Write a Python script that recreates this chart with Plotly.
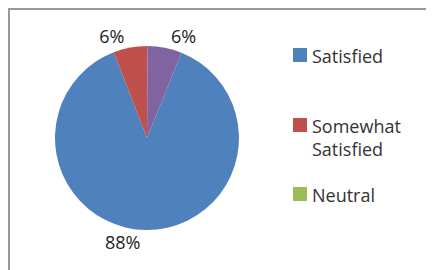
import plotly.graph_objects as go

categories = ["Satisfied", "Somewhat Satisfied", "Neutral", "Dissatisfied"]
values = [88, 6, 0, 6]
colors = ["#4F81BD", "#C0504D", "#9BBB59", "#8064A2"]
legend_labels = ["Satisfied", "Somewhat<br>Satisfied", "Neutral"]

W, H = 434, 270
OFF = 8  # page body margin offset
cx, cy, r = 147 - OFF, 138 - OFF, 92

texts = ["%{percent:.0%}" if v > 0 else "" for v in values]

fig = go.Figure(go.Pie(
    labels=categories,
    values=values,
    sort=False,
    direction="clockwise",
    rotation=22,
    marker=dict(colors=colors, line=dict(width=0)),
    texttemplate=texts,
    textposition="outside",
    textfont=dict(family="Open Sans", size=18, color="#222222"),
    showlegend=False,
    domain=dict(x=[(cx - r) / W, (cx + r) / W], y=[(H - cy - r) / H, (H - cy + r) / H]),
    hoverinfo="label+percent",
))

shapes = [dict(type="rect", xref="paper", yref="paper",
               x0=1 / W, x1=1.05, y0=-0.05, y1=1 - 1 / H,
               line=dict(color="#9a9a9a", width=2), fillcolor="rgba(0,0,0,0)")]
annotations = []
leg_y = [55, 125, 194]
for lab, col, yy in zip(legend_labels, colors, leg_y):
    yy -= OFF
    shapes.append(dict(type="rect", xref="paper", yref="paper",
                       x0=(293 - OFF) / W, x1=(307 - OFF) / W, y0=1 - (yy + 7) / H, y1=1 - (yy - 7) / H,
                       line=dict(width=0), fillcolor=col))
    annotations.append(dict(xref="paper", yref="paper", x=(310 - OFF) / W, y=1 - (yy - 13) / H,
                            xanchor="left", yanchor="top", align="left", showarrow=False,
                            text=lab, font=dict(family="Open Sans", size=18, color="#333333")))

fig.update_layout(width=W, height=H, margin=dict(l=0, r=0, t=0, b=0),
                  paper_bgcolor="white", plot_bgcolor="white",
                  shapes=shapes, annotations=annotations)
fig.write_html("out.html")
